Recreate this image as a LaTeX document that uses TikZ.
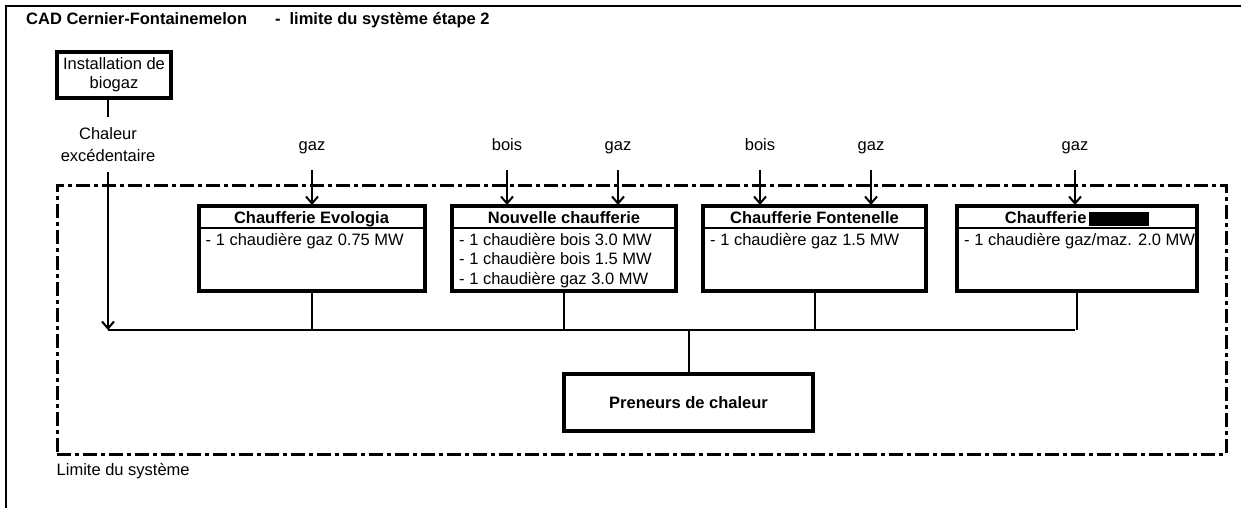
\documentclass[tikz,border=0pt]{standalone}
\usepackage{fontspec}
\setmainfont{Liberation Sans}
\usetikzlibrary{positioning, arrows.meta}

\begin{document}
\begin{tikzpicture}[
	x=1pt, y=-1pt,
	font=\fontsize{16.5}{19.5}\selectfont,
	% Style for the plant boxes
	plantBox/.style={draw, line width=4pt, inner sep=0pt, outer sep=0pt},
	plantHead/.style={font=\fontsize{16.5}{19.5}\selectfont\bfseries, text height=15pt, text depth=2pt, minimum height=22pt, inner sep=0pt, outer sep=0pt, anchor=north},
	plantList/.style={align=left, inner sep=0pt},
	% Fuel labels & flows
	fuelLabel/.style={text height=12pt, text depth=4pt, inner sep=0pt},
	inFlow/.style={line width=2pt, -{Straight Barb[length=7pt, width=12pt]}},
	pipe/.style={line width=2pt},
	% System boundary
	sysLimit/.style={draw, line width=3pt, dash pattern=on 14pt off 4pt on 4pt off 4pt}
	]
	
	\useasboundingbox (0,0) rectangle (1241,508);
	
	% ==============================================================================
	% FRAME AND TITLE
	% ==============================================================================
	\draw[line width=2pt] (6,508) -- (6,6) -- (1241,6);
	\node[anchor=base west, inner sep=0pt, font=\fontsize{16.5}{19.5}\selectfont\bfseries] (title) at (26,25) {CAD Cernier-Fontainemelon\hspace{28pt}-\hspace{9pt}limite du système étape 2};
	
	% System boundary
	\node[sysLimit, minimum width=1169pt, minimum height=269pt] (limit) at (641.5,319.5) {};
	\node[below right=8pt and 1pt of limit.south west, inner sep=0pt, anchor=north west] (limitLabel) {Limite du système};
	
	% ==============================================================================
	% BIOGAS PLANT
	% ==============================================================================
	\node[plantBox, align=center, minimum width=114pt, minimum height=46pt, font=\fontsize{16.5}{19}\selectfont] (biogaz) at (114,75) {Installation de\\biogaz};
	\node[align=center, inner sep=0pt, anchor=north, font=\fontsize{16.5}{22}\selectfont] (chaleur) at (108,127) {Chaleur\\excédentaire};
	\draw[pipe, shorten >=10pt] (biogaz.south -| chaleur) -- (chaleur.north);
	
	% Heat bus
	\coordinate (busW) at (108,330);
	\coordinate (busE) at (1075,330);
	\draw[inFlow, shorten <=10pt] (chaleur.south) -- (busW);
	\draw[pipe] (busW) -- (busE);
	
	% ==============================================================================
	% HEATING PLANTS
	% ==============================================================================
	% Chaufferie Evologia
	\node[plantBox, minimum width=226pt, minimum height=85pt] (evologia) at (311.5,248.5) {};
	\node[plantHead, minimum width=226pt] (evologiaT) at (evologia.north) {Chaufferie Evologia};
	\draw[pipe] (evologiaT.south west) -- (evologiaT.south east);
	\node[plantList, below right=5pt and 7pt of evologiaT.south west] (evologiaL) {- 1 chaudière gaz 0.75 MW};
	\node[fuelLabel] (gazEvo) at (312,146) {gaz};
	\draw[inFlow, shorten <=16pt, shorten >=1pt] (gazEvo) -- (gazEvo |- evologia.north);
	\draw[pipe] (evologia.south) -- (evologia.south |- busW);
	
	% Nouvelle chaufferie
	\node[plantBox, minimum width=224pt, minimum height=85pt] (nouvelle) at (564,248.5) {};
	\node[plantHead, minimum width=224pt] (nouvelleT) at (nouvelle.north) {Nouvelle chaufferie};
	\draw[pipe] (nouvelleT.south west) -- (nouvelleT.south east);
	\node[plantList, below right=5pt and 7pt of nouvelleT.south west] (nouvelleL) {- 1 chaudière bois 3.0 MW\\- 1 chaudière bois 1.5 MW\\- 1 chaudière gaz 3.0 MW};
	\node[fuelLabel] (boisNou) at (507,146) {bois};
	\node[fuelLabel] (gazNou) at (618,146) {gaz};
	\draw[inFlow, shorten <=16pt, shorten >=1pt] (boisNou) -- (boisNou |- nouvelle.north);
	\draw[inFlow, shorten <=16pt, shorten >=1pt] (gazNou) -- (gazNou |- nouvelle.north);
	\draw[pipe] (nouvelle.south) -- (nouvelle.south |- busW);
	
	% Chaufferie Fontenelle
	\node[plantBox, minimum width=223pt, minimum height=85pt] (fontenelle) at (814.5,248.5) {};
	\node[plantHead, minimum width=223pt] (fontenelleT) at (fontenelle.north) {Chaufferie Fontenelle};
	\draw[pipe] (fontenelleT.south west) -- (fontenelleT.south east);
	\node[plantList, below right=5pt and 7pt of fontenelleT.south west] (fontenelleL) {- 1 chaudière gaz 1.5 MW};
	\node[fuelLabel] (boisFon) at (760,146) {bois};
	\node[fuelLabel] (gazFon) at (871,146) {gaz};
	\draw[inFlow, shorten <=16pt, shorten >=1pt] (boisFon) -- (boisFon |- fontenelle.north);
	\draw[inFlow, shorten <=16pt, shorten >=1pt] (gazFon) -- (gazFon |- fontenelle.north);
	\draw[pipe] (fontenelle.south) -- (fontenelle.south |- busW);
	
	% Chaufferie (name hidden)
	\node[plantBox, minimum width=240pt, minimum height=85pt] (cachee) at (1077,248.5) {};
	\node[plantHead, minimum width=240pt] (cacheeT) at (cachee.north) {Chaufferie\,\rule[-2pt]{60pt}{14pt}};
	\draw[pipe] (cacheeT.south west) -- (cacheeT.south east);
	\node[plantList, below right=5pt and 7pt of cacheeT.south west] (cacheeL) {- 1 chaudière gaz/maz. 2.0 MW};
	\node[fuelLabel] (gazCac) at (1075,146) {gaz};
	\draw[inFlow, shorten <=16pt, shorten >=1pt] (gazCac) -- (gazCac |- cachee.north);
	\draw[pipe] (cachee.south) -- (cachee.south |- busW);
	
	% ==============================================================================
	% HEAT CONSUMERS
	% ==============================================================================
	\node[plantBox, font=\fontsize{16.5}{19.5}\selectfont\bfseries, minimum width=249pt, minimum height=57pt] (preneurs) at (688.5,402.5) {Preneurs de chaleur};
	\draw[pipe] (preneurs.north) -- (preneurs.north |- busW);
	
\end{tikzpicture}
\end{document}
